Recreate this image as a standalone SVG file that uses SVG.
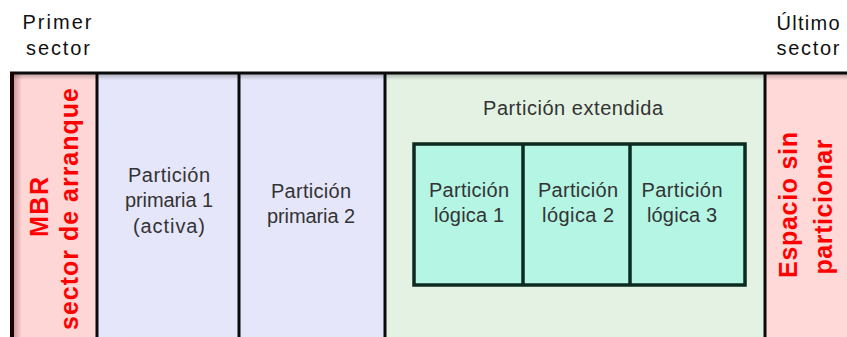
<svg xmlns="http://www.w3.org/2000/svg" width="847" height="337" viewBox="0 0 847 337">
<defs>
<style>
.lbl{font-family:"Liberation Sans",Arial,sans-serif;font-size:20px;fill:#333;text-anchor:middle}
.hdr{font-family:"Liberation Sans",Arial,sans-serif;font-size:20px;fill:#111;text-anchor:middle}
.red{font-family:"Liberation Sans",Arial,sans-serif;font-size:25px;font-weight:bold;fill:#ff0000;text-anchor:middle}
.div{stroke:#0a0a0a;stroke-width:3}
</style>
<linearGradient id="topShade" x1="0" y1="0" x2="0" y2="1">
<stop offset="0" stop-color="#000" stop-opacity="0.25"/>
<stop offset="1" stop-color="#000" stop-opacity="0"/>
</linearGradient>
<linearGradient id="leftShade" x1="0" y1="0" x2="1" y2="0">
<stop offset="0" stop-color="#7a3030" stop-opacity="0.35"/>
<stop offset="1" stop-color="#7a3030" stop-opacity="0"/>
</linearGradient>
</defs>

<g id="headers">
<text class="hdr" x="57" y="29" textLength="69" lengthAdjust="spacing">Primer</text>
<text class="hdr" x="58" y="55" textLength="64" lengthAdjust="spacing">sector</text>
<text class="hdr" x="808" y="30" textLength="63" lengthAdjust="spacing">Último</text>
<text class="hdr" x="808" y="55" textLength="63" lengthAdjust="spacing">sector</text>
</g>

<g id="mbr">
<rect x="12" y="73" width="85" height="264" fill="#ffd6d6"/>
<rect x="14" y="74" width="8" height="263" fill="url(#leftShade)"/>
<rect x="14" y="74" width="82" height="6" fill="url(#topShade)"/>
<text class="red" transform="translate(48,207) rotate(-90)" textLength="60" lengthAdjust="spacing">MBR</text>
<text class="red" transform="translate(78,209) rotate(-90)" textLength="242" lengthAdjust="spacing">sector de arranque</text>
</g>

<g id="primaria1">
<rect x="97" y="73" width="142" height="264" fill="#e6e6fa"/>
<rect x="98" y="74" width="140" height="6" fill="url(#topShade)"/>
<text class="lbl" x="169" y="182" textLength="82" lengthAdjust="spacing">Partición</text>
<text class="lbl" x="169" y="207" textLength="88" lengthAdjust="spacing">primaria 1</text>
<text class="lbl" x="169" y="233" textLength="72" lengthAdjust="spacing">(activa)</text>
</g>

<g id="primaria2">
<rect x="239" y="73" width="146" height="264" fill="#e6e6fa"/>
<rect x="240" y="74" width="144" height="6" fill="url(#topShade)"/>
<text class="lbl" x="311" y="198" textLength="80" lengthAdjust="spacing">Partición</text>
<text class="lbl" x="311" y="223" textLength="88" lengthAdjust="spacing">primaria 2</text>
</g>

<g id="extendida">
<rect x="385" y="73" width="380" height="264" fill="#e4f2e4"/>
<rect x="386" y="74" width="378" height="6" fill="url(#topShade)"/>
<text class="lbl" x="573" y="115" textLength="180" lengthAdjust="spacing">Partición extendida</text>
</g>

<g id="logicas">
<rect x="414" y="144" width="331" height="141" fill="#b4f5e3" stroke="#0b2a20" stroke-width="3.5"/>
</g>
<g id="logica1">
<text class="lbl" x="469" y="197" textLength="80" lengthAdjust="spacing">Partición</text>
<text class="lbl" x="469" y="222" textLength="70" lengthAdjust="spacing">lógica 1</text>
</g>
<g id="logica2">
<text class="lbl" x="578" y="197" textLength="80" lengthAdjust="spacing">Partición</text>
<text class="lbl" x="578" y="222" textLength="72" lengthAdjust="spacing">lógica 2</text>
</g>
<g id="logica3">
<text class="lbl" x="682" y="197" textLength="81" lengthAdjust="spacing">Partición</text>
<text class="lbl" x="682" y="222" textLength="70" lengthAdjust="spacing">lógica 3</text>
</g>

<g id="sinparticionar">
<rect x="765" y="73" width="82" height="264" fill="#ffd8d8"/>
<rect x="766" y="74" width="81" height="6" fill="url(#topShade)"/>
<text class="red" transform="translate(797,205) rotate(-90)" textLength="146" lengthAdjust="spacing">Espacio sin</text>
<text class="red" transform="translate(832,207) rotate(-90)" textLength="135" lengthAdjust="spacing">particionar</text>
</g>

<g id="connectors">
<line class="div" x1="10" y1="73" x2="847" y2="73"/>
<line x1="12" y1="72" x2="12" y2="337" stroke="#1a0000" stroke-width="4"/>
<line class="div" x1="97" y1="73" x2="97" y2="337" stroke="#1a0000"/>
<line class="div" x1="239" y1="73" x2="239" y2="337"/>
<line class="div" x1="385" y1="73" x2="385" y2="337"/>
<line class="div" x1="765" y1="73" x2="765" y2="337"/>
<line x1="523" y1="144" x2="523" y2="285" stroke="#0b2a20" stroke-width="3.5"/>
<line x1="630" y1="144" x2="630" y2="285" stroke="#0b2a20" stroke-width="3.5"/>
</g>
</svg>
